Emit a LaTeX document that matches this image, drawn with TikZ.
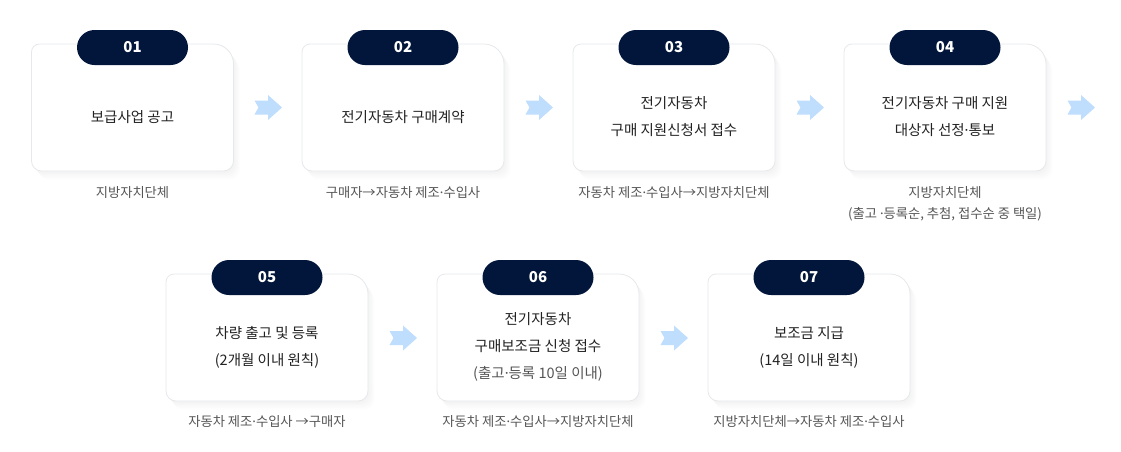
\documentclass[tikz,border=0pt]{standalone}
\usepackage{fontspec}
\setmainfont{Noto Sans CJK KR}
\newfontfamily\latinfont{Noto Sans}
\usepackage{tikz}
\usetikzlibrary{positioning}

\definecolor{navy}{HTML}{01163A}
\definecolor{skyarrow}{HTML}{BFDDFD}
\definecolor{cardline}{HTML}{E6E8EB}
\definecolor{maintext}{HTML}{222222}
\definecolor{subtext}{HTML}{555555}

\newcommand{\md}{{\latinfont ·}}

\tikzset{
  pillbox/.style={fill=navy, text=white, rounded corners=17.5pt, minimum width=111pt,
                  minimum height=35pt, inner sep=0pt, font=\fontsize{15}{15}\selectfont\bfseries},
  cardtext/.style={align=center, text=maintext, inner sep=0pt,
                   font=\fontsize{14.5}{27}\selectfont},
  captext/.style={align=center, text=subtext, inner sep=0pt, anchor=north,
                  font=\fontsize{13.3}{21}\selectfont},
}

% card outline: small top left, large top right, medium bottom corners
\newcommand{\cardpath}[2]{%
  (#1-101,#2-55.5) arc(180:270:8) -- (#1+81,#2-63.5) arc(270:360:20)
    -- (#1+101,#2+53.5) arc(0:90:10) -- (#1-91,#2+63.5) arc(90:180:10) -- cycle}
\newcommand{\cardshape}[2]{%
  \foreach \s in {1,...,6}
    \fill[black, opacity=0.008, xshift=\s*1.1pt, yshift=-\s*1.4pt] \cardpath{#1}{#2};
  \draw[cardline, fill=white, line width=0.8pt] \cardpath{#1}{#2};
}
% notched flow arrow
\newcommand{\flowarrow}[2]{%
  \fill[skyarrow] (#1-13.5,#2-7) -- (#1,#2-7) -- (#1,#2-12.5) -- (#1+14,#2)
    -- (#1,#2+12.5) -- (#1,#2+7) -- (#1-13.5,#2+7) -- (#1-9.5,#2) -- cycle;
}

\begin{document}
\begin{tikzpicture}[x=1pt, y=-1pt]
  \useasboundingbox (0,0) rectangle (1121,451);

  % row 1
  \cardshape{132.5}{107.5}
  \cardshape{403}{107.5}
  \cardshape{674}{107.5}
  \cardshape{945}{107.5}
  % row 2
  \cardshape{267}{337.5}
  \cardshape{538}{337.5}
  \cardshape{809}{337.5}

  \node[pillbox] (p1) at (132.5,47.5) {01};
  \node[pillbox] (p2) at (403,47.5) {02};
  \node[pillbox] (p3) at (674,47.5) {03};
  \node[pillbox] (p4) at (945,47.5) {04};
  \node[pillbox] (p5) at (267,277.5) {05};
  \node[pillbox] (p6) at (538,277.5) {06};
  \node[pillbox] (p7) at (809,277.5) {07};

  \node[cardtext] (c1) at (132.5,117) {보급사업 공고};
  \node[cardtext] (c2) at (403,117) {전기자동차 구매계약};
  \node[cardtext] (c3) at (674,117) {전기자동차\\구매 지원신청서 접수};
  \node[cardtext] (c4) at (945,117) {전기자동차 구매 지원\\대상자 선정\md 통보};
  \node[cardtext] (c5) at (267,347) {차량 출고 및 등록\\(2개월 이내 원칙)};
  \node[cardtext] (c6) at (538,347) {전기자동차\\구매보조금 신청 접수\\\textcolor{subtext}{(출고\md 등록 10일 이내)}};
  \node[cardtext] (c7) at (809,347) {보조금 지급\\(14일 이내 원칙)};

  \node[captext] (t1) at (132.5,186) {지방자치단체};
  \node[captext] (t2) at (403,186) {구매자→자동차 제조\md 수입사};
  \node[captext] (t3) at (674,186) {자동차 제조\md 수입사→지방자치단체};
  \node[captext] (t4) at (945,186) {지방자치단체\\(출고 \md 등록순, 추첨, 접수순 중 택일)};
  \node[captext] (t5) at (267,415) {자동차 제조\md 수입사 →구매자};
  \node[captext] (t6) at (538,415) {자동차 제조\md 수입사→지방자치단체};
  \node[captext] (t7) at (809,415) {지방자치단체→자동차 제조\md 수입사};

  \flowarrow{268}{107.5}
  \flowarrow{539}{107.5}
  \flowarrow{810}{107.5}
  \flowarrow{1081}{107.5}
  \flowarrow{403}{338}
  \flowarrow{674}{338}
\end{tikzpicture}
\end{document}
